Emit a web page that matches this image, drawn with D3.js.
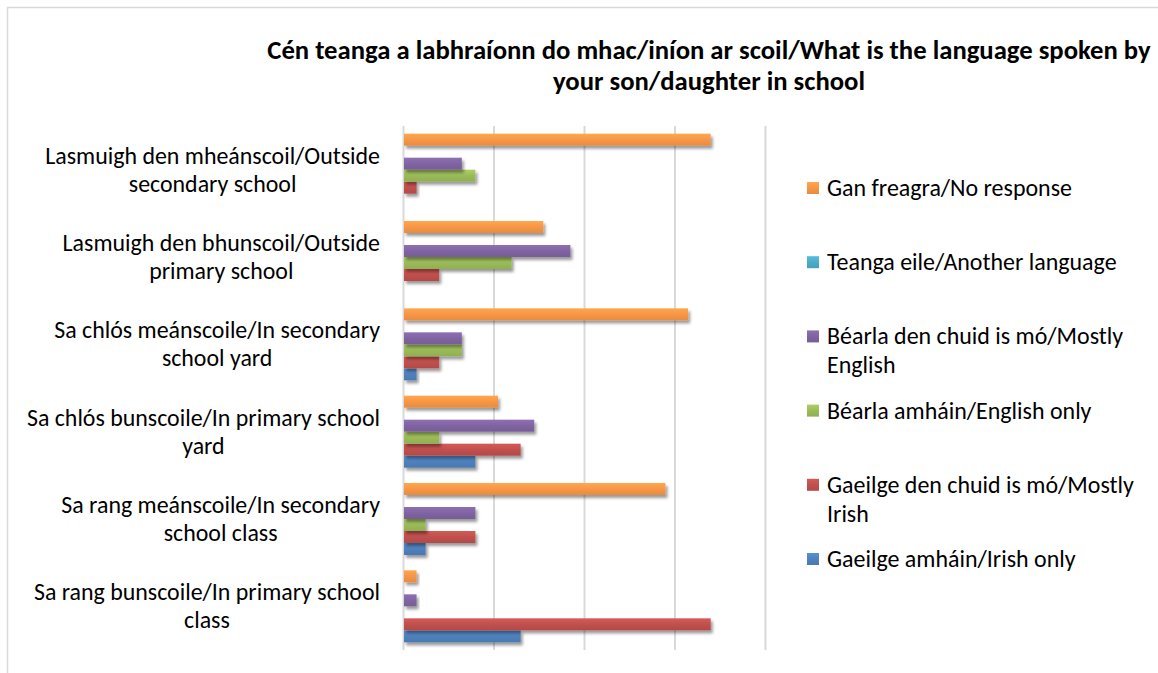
<!DOCTYPE html>
<html><head><meta charset="utf-8">
<script src="https://cdn.jsdelivr.net/npm/d3@7"></script>
<style>body{margin:0;background:#fff;} svg{display:block;}</style>
</head><body>
<script>
// ---- data ----
const titleLines = ["Cén teanga a labhraíonn do mhac/iníon ar scoil/What is the language spoken by", "your son/daughter in school"];
const categories = [
  "Lasmuigh den mheánscoil/Outside secondary school",
  "Lasmuigh den bhunscoil/Outside primary school",
  "Sa chlós meánscoile/In secondary school yard",
  "Sa chlós bunscoile/In primary school yard",
  "Sa rang meánscoile/In secondary school class",
  "Sa rang bunscoile/In primary school class"
];
const categoryLines = [
  ["Lasmuigh den mheánscoil/Outside", "secondary school"],
  ["Lasmuigh den bhunscoil/Outside", "primary school"],
  ["Sa chlós meánscoile/In secondary", "school yard"],
  ["Sa chlós bunscoile/In primary school", "yard"],
  ["Sa rang meánscoile/In secondary", "school class"],
  ["Sa rang bunscoile/In primary school", "class"]
];
const seriesNames = [
  "Gaeilge amháin/Irish only",
  "Gaeilge den chuid is mó/Mostly Irish",
  "Béarla amháin/English only",
  "Béarla den chuid is mó/Mostly English",
  "Teanga eile/Another language",
  "Gan freagra/No response"
];
const legendLines = [
  ["Gaeilge amháin/Irish only"],
  ["Gaeilge den chuid is mó/Mostly", "Irish"],
  ["Béarla amháin/English only"],
  ["Béarla den chuid is mó/Mostly", "English"],
  ["Teanga eile/Another language"],
  ["Gan freagra/No response"]
];
const gaeilgeAmhain  = [0, 0, 3, 16, 5, 26];
const gaeilgeMostly  = [3, 8, 8, 26, 16, 68];
const bearlaAmhain   = [16, 24, 13, 8, 5, 0];
const bearlaMostly   = [13, 37, 13, 29, 16, 3];
const teangaEile     = [0, 0, 0, 0, 0, 0];
const ganFreagra     = [68, 31, 63, 21, 58, 3];
const seriesValues = [gaeilgeAmhain, gaeilgeMostly, bearlaAmhain, bearlaMostly, teangaEile, ganFreagra];
const xTicks = [0, 20, 40, 60, 80];
const seriesColors = ["#4F81BD", "#C0504D", "#9BBB59", "#8064A2", "#4BACC6", "#F79646"];

// ---- setup ----
const W = 1158, H = 673;
const FONT = "Carlito, Calibri, Lato, 'Open Sans', sans-serif";
const svg = d3.select("body").append("svg").attr("width", W).attr("height", H);
svg.append("rect").attr("width", W).attr("height", H).attr("fill", "#fff");

function fitSize(text, weight, target) {
  const t = svg.append("text").attr("font-family", FONT).attr("font-weight", weight)
    .attr("font-size", 100).text(text);
  const w = t.node().getComputedTextLength();
  t.remove();
  return 100 * target / w;
}

const defs = svg.append("defs");
const f = defs.append("filter").attr("id", "shadow").attr("x", "-10%").attr("y", "-50%").attr("width", "130%").attr("height", "250%");
f.append("feDropShadow").attr("dx", 2).attr("dy", 3).attr("stdDeviation", 1.8)
  .attr("flood-color", "#000").attr("flood-opacity", 0.4);

seriesColors.forEach((c, i) => {
  const g = defs.append("linearGradient").attr("id", "grad" + i)
    .attr("x1", 0).attr("y1", 0).attr("x2", 0).attr("y2", 1);
  g.append("stop").attr("offset", "0%").attr("stop-color", d3.color(c).brighter(0.3));
  g.append("stop").attr("offset", "50%").attr("stop-color", c);
  g.append("stop").attr("offset", "100%").attr("stop-color", d3.color(c).darker(0.2));
});

// chart border
svg.append("rect").attr("x", 7.5).attr("y", 7.5).attr("width", 1200).attr("height", 700)
  .attr("fill", "none").attr("stroke", "#d9d9d9").attr("stroke-width", 1.5);

// ---- scales ----
const plotTop = 126, plotBottom = 650;
const x = d3.scaleLinear().domain([0, 80]).range([403, 765]);
const y = d3.scaleBand().domain(categories).range([plotTop, plotBottom])
  .paddingInner(0.1756).paddingOuter(0.0878);
const ySub = d3.scaleBand().domain(seriesNames.slice().reverse()).range([0, y.bandwidth()]);

// gridlines
const grid = svg.append("g").attr("transform", `translate(0,${plotTop})`)
  .call(d3.axisBottom(x).tickValues(xTicks).tickSize(plotBottom - plotTop).tickFormat(""));
grid.select(".domain").remove();
grid.selectAll(".tick line").attr("stroke", "#d9d9d9").attr("stroke-width", 2);

// bars
const groups = svg.append("g").selectAll("g").data(categories).join("g")
  .attr("transform", d => `translate(0,${y(d)})`);
groups.each(function (cat, ci) {
  const g = d3.select(this);
  seriesNames.forEach((s, si) => {
    const v = seriesValues[si][ci];
    const w = Math.max(0, x(v) - x(0) - 1);
    if (w <= 0) return;
    g.append("rect")
      .attr("x", x(0) + 1).attr("y", ySub(s))
      .attr("width", w).attr("height", ySub.bandwidth())
      .attr("fill", `url(#grad${si})`).attr("filter", "url(#shadow)");
  });
});

// title
const titleSize = fitSize(titleLines[0], "bold", 884);
const tt = svg.append("text").attr("font-family", FONT).attr("font-weight", "bold")
  .attr("font-size", titleSize).attr("text-anchor", "middle").attr("fill", "#000");
tt.append("tspan").attr("x", 709).attr("y", 59).text(titleLines[0]);
tt.append("tspan").attr("x", 709).attr("y", 90).text(titleLines[1]);

// category labels: block right-aligned at x=380, lines centred within block
const labSize = fitSize(categoryLines[0][0], "normal", 335);
const labelRight = 380;
categories.forEach((c, ci) => {
  const cy = y(c) + y.bandwidth() / 2;
  const lines = categoryLines[ci];
  const t = svg.append("text").attr("font-family", FONT).attr("font-size", labSize)
    .attr("text-anchor", "middle").attr("fill", "#000");
  const spans = lines.map((l, li) =>
    t.append("tspan").attr("y", cy + (li - (lines.length - 1) / 2) * 28 + labSize * 0.33).text(l));
  const maxW = d3.max(spans, s => s.node().getComputedTextLength());
  spans.forEach(s => s.attr("x", labelRight - maxW / 2));
});

// legend
const legSize = fitSize("Gan freagra/No response", "normal", 245);
const legendOrder = d3.range(seriesNames.length).reverse();
legendOrder.forEach((si, k) => {
  const cy = 188 + k * 74.2;
  svg.append("rect").attr("x", 807).attr("y", cy - 6).attr("width", 12).attr("height", 12)
    .attr("fill", `url(#grad${si})`);
  const t = svg.append("text").attr("font-family", FONT).attr("font-size", legSize).attr("fill", "#000");
  legendLines[si].forEach((l, li) => {
    t.append("tspan").attr("x", 827).attr("y", cy + li * 29 + legSize * 0.33).text(l);
  });
});
</script>
</body></html>
